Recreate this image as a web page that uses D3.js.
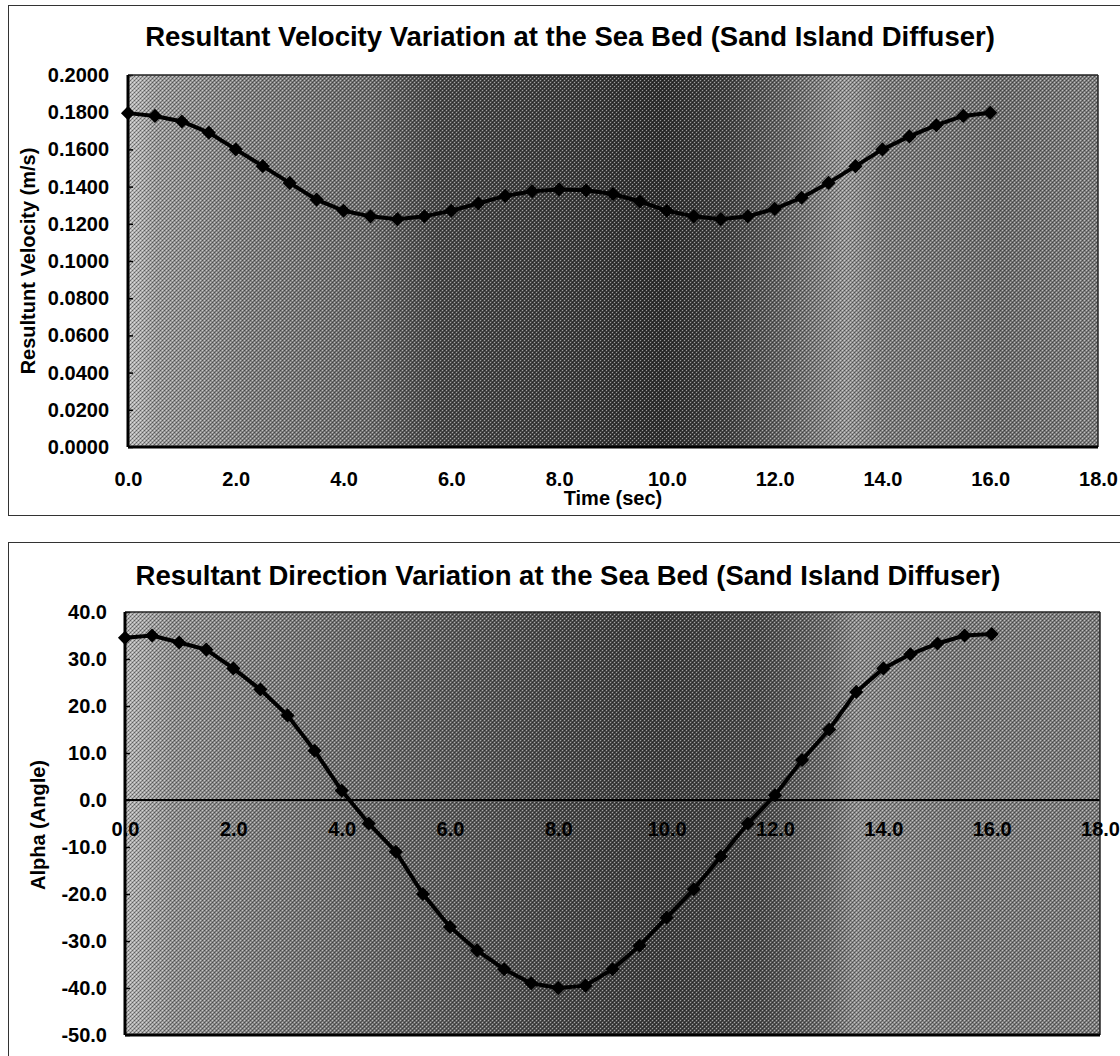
<!DOCTYPE html>
<html>
<head>
<meta charset="utf-8">
<style>
body { margin: 0; background: #fff; }
svg { display: block; }
text { font-family: "Liberation Sans", Arial, sans-serif; font-weight: bold; fill: #000; }
</style>
</head>
<body>
<svg width="1120" height="1056"></svg>
<script src="https://cdn.jsdelivr.net/npm/d3@7"></script>
<script>

// time steps (sec)
var timeSec = [0.0, 0.5, 1.0, 1.5, 2.0, 2.5, 3.0, 3.5, 4.0, 4.5, 5.0, 5.5, 6.0, 6.5, 7.0, 7.5,
               8.0, 8.5, 9.0, 9.5, 10.0, 10.5, 11.0, 11.5, 12.0, 12.5, 13.0, 13.5, 14.0, 14.5, 15.0, 15.5, 16.0];

// resultant velocity at the sea bed (m/s)
var velocity = [0.1795, 0.1780, 0.1750, 0.1690, 0.1600, 0.1510, 0.1420, 0.1330, 0.1270, 0.1240, 0.1225,
                0.1240, 0.1270, 0.1310, 0.1350, 0.1375, 0.1385, 0.1380, 0.1360, 0.1320, 0.1270, 0.1240,
                0.1225, 0.1240, 0.1280, 0.1340, 0.1420, 0.1510, 0.1600, 0.1670, 0.1730, 0.1780, 0.1797];

// resultant direction (alpha, degrees)
var alpha = [34.5, 35.0, 33.5, 32.0, 28.0, 23.5, 18.0, 10.5, 2.0, -5.0, -11.0, -20.0, -27.0, -32.0, -36.0, -39.0,
             -40.0, -39.5, -36.0, -31.0, -25.0, -19.0, -12.0, -5.0, 1.0, 8.5, 15.0, 23.0, 28.0, 31.0, 33.3, 35.0, 35.3];

var timeTicks = [0, 2, 4, 6, 8, 10, 12, 14, 16, 18];
var velocityTicks = [0, 0.02, 0.04, 0.06, 0.08, 0.10, 0.12, 0.14, 0.16, 0.18, 0.20];
var alphaTicks = [-50, -40, -30, -20, -10, 0, 10, 20, 30, 40];

var svg = d3.select("svg");
var defs = svg.append("defs");

// halftone texture of the scanned plot area
var pat = defs.append("pattern")
    .attr("id", "halftone")
    .attr("width", 4).attr("height", 4)
    .attr("patternUnits", "userSpaceOnUse");
[[0, 0, "#fff", 0.5], [2, 2, "#fff", 0.5], [2, 0, "#000", 0.45], [0, 2, "#000", 0.45],
 [1, 1, "#000", 0.25], [3, 3, "#000", 0.25]].forEach(function(p) {
    pat.append("rect").attr("x", p[0]).attr("y", p[1]).attr("width", 1).attr("height", 1)
        .attr("fill", p[2]).attr("opacity", p[3]);
});

// frames round each chart
svg.append("rect").attr("x", 8.5).attr("y", 5.5).attr("width", 1130).attr("height", 510)
    .attr("fill", "none").attr("stroke", "#333").attr("stroke-width", 1);
svg.append("rect").attr("x", 8.5).attr("y", 542.5).attr("width", 1130).attr("height", 530)
    .attr("fill", "none").attr("stroke", "#333").attr("stroke-width", 1);

var fmtMinus = function(f) { return function(d) { return f(d).replace("\u2212", "-"); }; };

function panel(o) {
    var x = d3.scaleLinear().domain([0, 18]).range([o.left, o.right]);
    var y = d3.scaleLinear().domain(o.yDomain).range([o.bottom, o.top]);

    var grad = defs.append("linearGradient").attr("id", o.id + "-bg")
        .attr("x1", 0).attr("x2", 1).attr("y1", 0).attr("y2", 0);
    o.shade.forEach(function(s) {
        grad.append("stop").attr("offset", s[0]).attr("stop-color", s[1]);
    });

    var g = svg.append("g");
    var w = o.right - o.left, h = o.bottom - o.top;

    g.append("rect").attr("x", o.left).attr("y", o.top).attr("width", w).attr("height", h)
        .attr("fill", "url(#" + o.id + "-bg)");
    g.append("rect").attr("x", o.left).attr("y", o.top).attr("width", w).attr("height", h)
        .attr("fill", "url(#halftone)");

    // title
    svg.append("text")
        .attr("x", o.titleX).attr("y", o.titleY)
        .attr("text-anchor", "middle")
        .attr("font-size", 27.5)
        .text(o.title);

    // y axis
    var ya = g.append("g")
        .attr("transform", "translate(" + o.left + ",0)")
        .call(d3.axisLeft(y).tickValues(o.yTicks).tickFormat(o.yFormat).tickSize(-5).tickPadding(o.yPad));
    ya.attr("font-size", 20).attr("font-family", null);
    ya.select(".domain").remove();
    ya.selectAll("line").attr("stroke", "#000").attr("stroke-width", 1.5);

    if (o.xAxisAt !== o.yDomain[0]) {
        g.append("line")
            .attr("x1", o.left).attr("x2", o.right)
            .attr("y1", y(0)).attr("y2", y(0))
            .attr("stroke", "#000").attr("stroke-width", 2);
    }

    // plot border: heavy left and bottom, light top and right
    g.append("line").attr("x1", o.left).attr("x2", o.right).attr("y1", o.top).attr("y2", o.top)
        .attr("stroke", "#222").attr("stroke-width", 1.5);
    g.append("line").attr("x1", o.right).attr("x2", o.right).attr("y1", o.top).attr("y2", o.bottom)
        .attr("stroke", "#222").attr("stroke-width", 1.5);
    g.append("line").attr("x1", o.left).attr("x2", o.right).attr("y1", o.bottom).attr("y2", o.bottom)
        .attr("stroke", "#000").attr("stroke-width", 3);
    g.append("line").attr("x1", o.left).attr("x2", o.left).attr("y1", o.top).attr("y2", o.bottom)
        .attr("stroke", "#000").attr("stroke-width", 3);

    // series
    var line = d3.line()
        .x(function(d, i) { return x(timeSec[i]); })
        .y(function(d) { return y(d); });
    g.append("path").datum(o.values)
        .attr("d", line)
        .attr("fill", "none")
        .attr("stroke", "#000")
        .attr("stroke-width", 4);
    g.selectAll(".mark").data(o.values).enter().append("path")
        .attr("class", "mark")
        .attr("d", d3.symbol(d3.symbolSquare, 100))
        .attr("transform", function(d, i) { return "translate(" + x(timeSec[i]) + "," + y(d) + ") rotate(45)"; })
        .attr("fill", "#000");

    // x axis (at zero for the direction chart)
    var xa = g.append("g")
        .attr("transform", "translate(0," + y(o.xAxisAt) + ")")
        .call(d3.axisBottom(x).tickValues(timeTicks).tickFormat(d3.format(".1f")).tickSize(0).tickPadding(o.xPad));
    xa.attr("font-size", 20).attr("font-family", null);
    xa.select(".domain").remove();

    // axis titles
    svg.append("text")
        .attr("transform", "translate(" + o.yTitleX + "," + o.yTitleY + ") rotate(-90)")
        .attr("text-anchor", "middle")
        .attr("dominant-baseline", "central")
        .attr("font-size", 20)
        .text(o.yTitle);
    if (o.xTitle) {
        svg.append("text")
            .attr("x", (o.left + o.right) / 2).attr("y", o.xTitleY)
            .attr("text-anchor", "middle")
            .attr("font-size", 20)
            .text(o.xTitle);
    }
}

panel({
    id: "vel",
    left: 128, right: 1098, top: 75, bottom: 447,
    yDomain: [0, 0.2], yTicks: velocityTicks, yFormat: d3.format(".4f"), yPad: 19,
    xAxisAt: 0, xPad: 25,
    values: velocity,
    title: "Resultant Velocity Variation at the Sea Bed (Sand Island Diffuser)",
    titleX: 570, titleY: 46,
    yTitle: "Resultunt Velocity (m/s)", yTitleX: 28, yTitleY: 261,
    xTitle: "Time (sec)", xTitleY: 505,
    shade: [[0, "#bcbcbc"], [0.03, "#9c9c9c"], [0.12, "#848484"], [0.25, "#707070"], [0.32, "#4c4c4c"],
            [0.45, "#424242"], [0.55, "#333333"], [0.62, "#484848"], [0.68, "#6c6c6c"], [0.74, "#989898"],
            [0.78, "#808080"], [0.9, "#727272"], [1, "#828282"]]
});

panel({
    id: "dir",
    left: 125, right: 1100, top: 612, bottom: 1035,
    yDomain: [-50, 40], yTicks: alphaTicks, yFormat: fmtMinus(d3.format(".1f")), yPad: 18,
    xAxisAt: 0, xPad: 22,
    values: alpha,
    title: "Resultant Direction Variation at the Sea Bed (Sand Island Diffuser)",
    titleX: 568, titleY: 585,
    yTitle: "Alpha (Angle)", yTitleX: 38, yTitleY: 825,
    xTitle: null,
    shade: [[0, "#b4b4b4"], [0.05, "#929292"], [0.15, "#808080"], [0.3, "#666666"], [0.45, "#4c4c4c"],
            [0.55, "#424242"], [0.65, "#505050"], [0.72, "#707070"], [0.75, "#8e8e8e"], [0.85, "#7e7e7e"],
            [1, "#808080"]]
});

</script>
</body>
</html>
